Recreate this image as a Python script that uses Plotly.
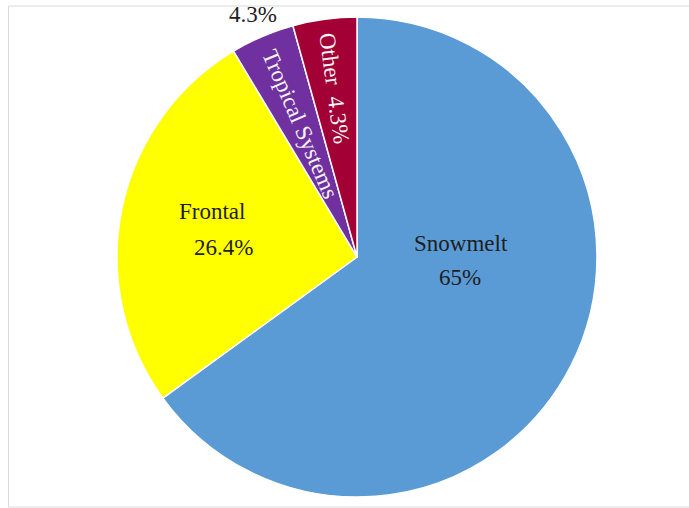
import math
import plotly.graph_objects as go

# ---- data ----
categories = ["Snowmelt", "Frontal", "Tropical Systems", "Other"]
shares = [65.0, 26.4, 4.3, 4.3]
share_labels = ["65%", "26.4%", "4.3%", "4.3%"]
colors = ["#5B9BD5", "#FFFF00", "#7030A0", "#A30036"]

# ---- geometry (pixels) ----
W, H = 689, 508
CX, CY, R = 357, 257, 240
FONT = "Liberation Serif"
FS = 23
DARK = "#1E1E1E"
LIGHT = "#F4F4F4"

total = sum(shares)
mid_deg = []
acc = 0.0
for v in shares:
    mid_deg.append(360.0 * (acc + v / 2) / total)
    acc += v


def paper(x, y):
    return x / W, 1 - y / H


def polar(theta_deg, r):
    t = math.radians(theta_deg)
    return paper(CX + r * math.sin(t), CY - r * math.cos(t))


fig = go.Figure(
    go.Pie(
        labels=categories,
        values=shares,
        sort=False,
        direction="clockwise",
        rotation=0,
        marker=dict(colors=colors, line=dict(color="white", width=1.5)),
        textinfo="none",
        hoverinfo="label+percent",
        showlegend=False,
        domain=dict(x=[(CX - R) / W, (CX + R) / W], y=[1 - (CY + R) / H, 1 - (CY - R) / H]),
    )
)

ann = []


def add(text, xy, color=DARK, angle=0):
    ann.append(dict(text=text, x=xy[0], y=xy[1], xref="paper", yref="paper",
                    xanchor="center", yanchor="middle", showarrow=False,
                    textangle=angle, font=dict(family=FONT, size=FS, color=color)))


# Snowmelt
add(categories[0], paper(CX + 104, CY - 14))
add(share_labels[0], paper(CX + 103, CY + 20))
# Frontal
add(categories[1], paper(CX - 145, CY - 45))
add(share_labels[1], paper(CX - 134, CY - 10))
# Tropical Systems (radial, inside) + value outside
add(categories[2], polar(mid_deg[2], 144), LIGHT, mid_deg[2] - 270)
add(share_labels[2], polar(mid_deg[2], 264), DARK, 0)
# Other (radial, inside)
add(categories[3] + "  " + share_labels[3], polar(mid_deg[3], 170), LIGHT, mid_deg[3] - 270)

fig.update_layout(
    width=W, height=H,
    margin=dict(l=0, r=0, t=0, b=0),
    paper_bgcolor="white",
    plot_bgcolor="white",
    annotations=ann,
    shapes=[dict(type="rect", xref="paper", yref="paper",
                 x0=8.5 / W, x1=1.02, y0=1 - 507 / H, y1=1 - 6 / H,
                 line=dict(color="#DADADA", width=1), fillcolor="rgba(0,0,0,0)", layer="below")],
)

fig.write_html("out.html",
               config={"displayModeBar": False},
               post_script="document.body.style.margin='0';document.body.style.overflow='hidden';")
